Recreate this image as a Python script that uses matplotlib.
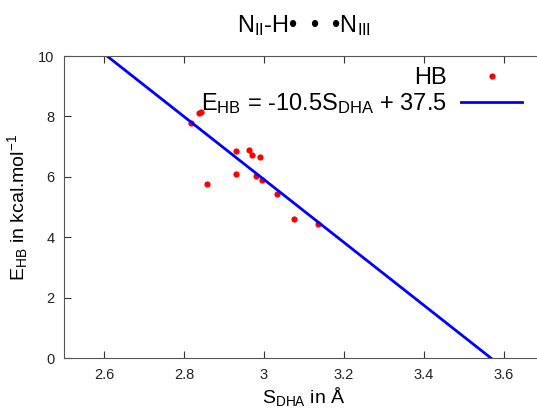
import numpy as np
import matplotlib
matplotlib.use('Agg')
import matplotlib.pyplot as plt

plt.rcParams['font.family'] = ['Liberation Sans', 'DejaVu Sans']
plt.rcParams['mathtext.fontset'] = 'custom'
plt.rcParams['mathtext.rm'] = 'Liberation Sans'
plt.rcParams['mathtext.it'] = 'Liberation Sans'
plt.rcParams['mathtext.default'] = 'rm'

# H-bond distance (A) vs energy (kcal/mol)
s_dha = [2.818, 2.838, 2.843, 2.858, 2.929, 2.930, 2.963, 2.970, 2.980,
         2.990, 2.994, 3.033, 3.076, 3.136]
e_hb = [7.77, 8.12, 8.14, 5.77, 6.09, 6.85, 6.88, 6.71, 6.03,
        6.64, 5.88, 5.42, 4.59, 4.44]

# linear fit (drawn line; label shows rounded values)
slope = -10.42
intercept = 37.17
fit_x = [2.5, 3.7]
fit_label = r'E$_{HB}$ = -10.5S$_{DHA}$ + 37.5'

fig = plt.figure(figsize=(5.37, 4.08), dpi=100)
ax = fig.add_axes([64/537, 50/408, 480/537, 302/408])

ax.plot(s_dha, e_hb, 'o', color='red', markersize=4.5, markeredgewidth=0,
        linestyle='none', label='HB')
fx = np.array(fit_x)
ax.plot(fx, slope*fx + intercept, color='blue', linewidth=2, label=fit_label)

ax.set_xlim(2.5, 3.7)
ax.set_ylim(0, 10)
ax.set_xticks([2.6, 2.8, 3.0, 3.2, 3.4, 3.6])
ax.set_xticklabels(['2.6', '2.8', '3', '3.2', '3.4', '3.6'])
ax.set_yticks([0, 2, 4, 6, 8, 10])

ax.tick_params(direction='in', length=5, labelsize=10.5, colors='#333333',
               top=True, right=False, pad=7)
ax.tick_params(axis='x', labelcolor='#222222')
ax.tick_params(axis='y', labelcolor='#222222')
for s in ax.spines.values():
    s.set_color('#555555')
ax.spines['right'].set_visible(False)

ax.set_xlabel(r'S$_{DHA}$ in Å', fontsize=14, labelpad=2)
ax.set_ylabel(r'E$_{HB}$ in kcal.mol$^{\mathregular{-1}}$', fontsize=14, labelpad=6)
ax.set_title(r'N$_{II}$-H•  •  •N$_{III}$', fontsize=17, pad=17)

ax.legend(loc='upper right', bbox_to_anchor=(534/537, 1-55/408),
          bbox_transform=fig.transFigure, frameon=False, markerfirst=False,
          numpoints=1, handlelength=2.6, fontsize=17, labelspacing=0.1,
          handletextpad=0.6, borderpad=0)

fig.savefig('out.png', dpi=100)
